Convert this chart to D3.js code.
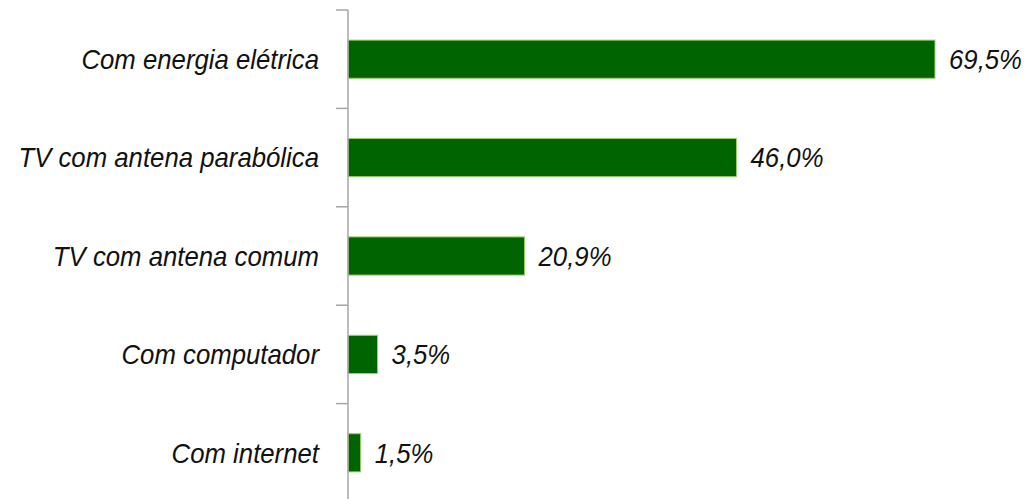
<!DOCTYPE html>
<html>
<head>
<meta charset="utf-8">
<script src="https://cdn.jsdelivr.net/npm/d3@7"></script>
<style>
  body { margin: 0; background: #fff; }
  text { font-family: "Liberation Sans", Arial, sans-serif; font-style: italic; }
</style>
</head>
<body>
<svg id="chart" width="1028" height="499"></svg>
<script>
const categorias = ["Com energia elétrica", "TV com antena parabólica", "TV com antena comum", "Com computador", "Com internet"]
const valores = [69.5, 46.0, 20.9, 3.5, 1.5]

const largura = 1028, altura = 499
const margin = {left : 348, top : 10, right : 8}
const fonte = 28, aperto = 0.92

const svg = d3.select("#chart")

const x_scale = d3.scaleLinear().domain([0, 100]).range([margin.left, margin.left + 844.6])
const y_scale = d3.scaleBand().domain(categorias).range([margin.top, margin.top + 5*98.4])
    .paddingInner(0.612).paddingOuter(0.306)

const step = y_scale.step()
const fmt = d3.formatLocale({decimal : ",", thousands : ".", grouping : [3], currency : ["", ""]}).format(".1f")

const dados = categorias.map((c, i) => ({cat : c, valor : valores[i]}))

// barres
svg.selectAll("rect.bar")
    .data(dados)
    .join("rect")
    .attr("class", "bar")
    .attr("x", x_scale(0))
    .attr("y", d => y_scale(d.cat))
    .attr("width", d => x_scale(d.valor) - x_scale(0))
    .attr("height", y_scale.bandwidth())
    .style("fill", "#006400")
    .style("stroke", "#9ad36a")
    .style("stroke-width", 1)

// axe
const axe = svg.append("g")
axe.append("line")
    .attr("x1", margin.left).attr("x2", margin.left)
    .attr("y1", margin.top).attr("y2", altura)
    .style("stroke", "#a6a6a6").style("stroke-width", 1.5)

axe.selectAll("line.tick")
    .data(d3.range(categorias.length + 1))
    .join("line")
    .attr("class", "tick")
    .attr("x1", margin.left - 12).attr("x2", margin.left)
    .attr("y1", i => margin.top + i*step).attr("y2", i => margin.top + i*step)
    .style("stroke", "#a6a6a6").style("stroke-width", 1.5)

// etiquettes des catégories
svg.selectAll("text.cat")
    .data(dados)
    .join("text")
    .attr("class", "cat")
    .attr("transform", d => `translate(${margin.left - 29},${y_scale(d.cat) + y_scale.bandwidth()/2}) scale(${aperto},1)`)
    .attr("dy", "0.35em")
    .attr("text-anchor", "end")
    .style("font-size", fonte + "px")
    .style("fill", "#111")
    .text(d => d.cat)

// valeurs
svg.selectAll("text.val")
    .data(dados)
    .join("text")
    .attr("class", "val")
    .attr("transform", d => `translate(${x_scale(d.valor) + 14},${y_scale(d.cat) + y_scale.bandwidth()/2}) scale(${aperto},1)`)
    .attr("dy", "0.35em")
    .attr("text-anchor", "start")
    .style("font-size", fonte + "px")
    .style("fill", "#111")
    .text(d => fmt(d.valor) + "%")
</script>
</body>
</html>
